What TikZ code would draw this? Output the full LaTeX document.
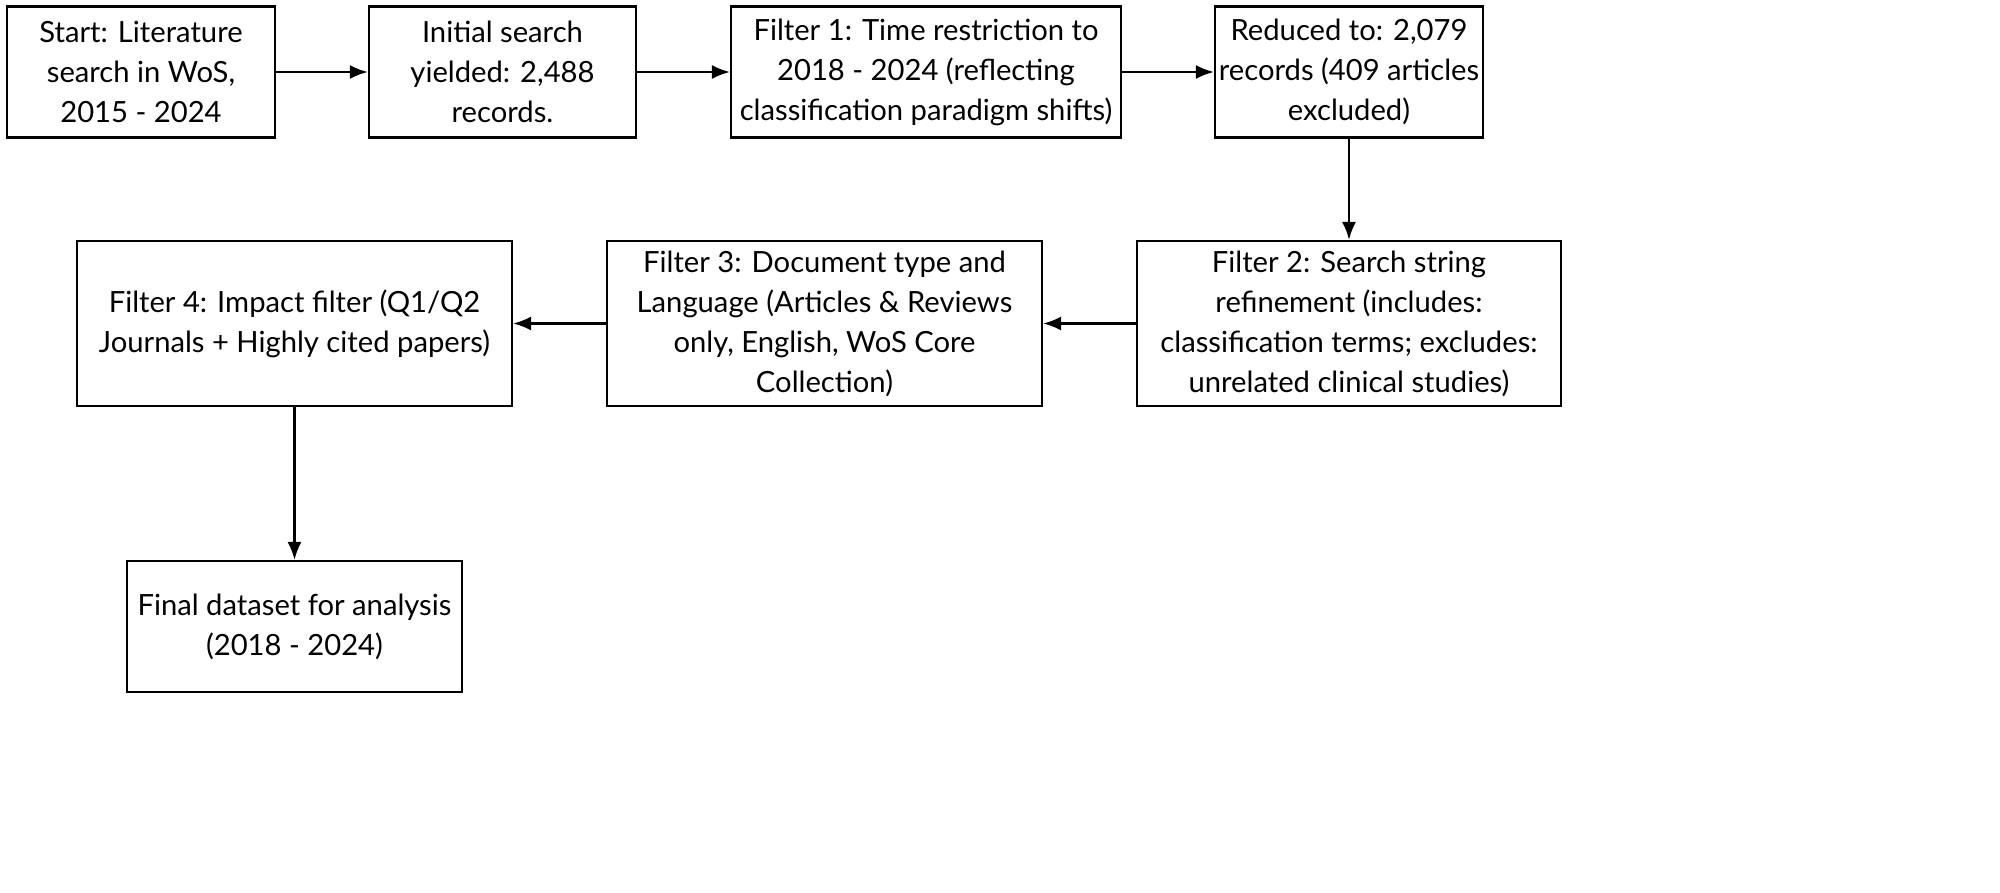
\documentclass[tikz,border=0pt]{standalone}
\usepackage{fontspec}
\setmainfont{Lato}
\usetikzlibrary{arrows.meta}

\tikzset{
  stage/.style={draw, line width=1.1pt, align=center, inner sep=0pt,
    font=\fontsize{14.6pt}{20pt}\selectfont},
  flow/.style={-{Latex[length=9pt,width=7pt]}, line width=1.1pt}
}

\begin{document}
\begin{tikzpicture}[x=0.5pt,y=-0.5pt]
  \path[use as bounding box] (0,0) rectangle (2000,893);

  \node[stage, minimum width=134pt, minimum height=65.5pt] (start) at (141,72)
    {Start: Literature\\search in WoS,\\2015 - 2024};
  \node[stage, minimum width=133.5pt, minimum height=65.5pt] (initial) at (502.5,72)
    {Initial search\\yielded: 2,488\\records.};
  \node[stage, minimum width=195pt, minimum height=65.5pt] (filterA) at (926,72)
    {Filter 1: Time restriction to\\2018 - 2024 (reflecting\\classification paradigm shifts)};
  \node[stage, minimum width=134pt, minimum height=65.5pt] (reduced) at (1349,72)
    {Reduced to: 2,079\\records (409 articles\\excluded)};
  \node[stage, minimum width=212pt, minimum height=82.5pt] (filterB) at (1349,323.5)
    {Filter 2: Search string\\refinement (includes:\\classification terms; excludes:\\unrelated clinical studies)};
  \node[stage, minimum width=217.5pt, minimum height=82.5pt] (filterC) at (824.5,323.5)
    {Filter 3: Document type and\\Language (Articles \& Reviews\\only, English, WoS Core\\Collection)};
  \node[stage, minimum width=217.5pt, minimum height=82.5pt] (filterD) at (294.5,323.5)
    {Filter 4: Impact filter (Q1/Q2\\Journals + Highly cited papers)};
  \node[stage, minimum width=167.5pt, minimum height=65.5pt] (final) at (294.5,626.5)
    {Final dataset for analysis\\(2018 - 2024)};

  \draw[flow] (start) -- (initial);
  \draw[flow] (initial) -- (filterA);
  \draw[flow] (filterA) -- (reduced);
  \draw[flow] (reduced) -- (filterB);
  \draw[flow] (filterB) -- (filterC);
  \draw[flow] (filterC) -- (filterD);
  \draw[flow] (filterD) -- (final);
\end{tikzpicture}
\end{document}
